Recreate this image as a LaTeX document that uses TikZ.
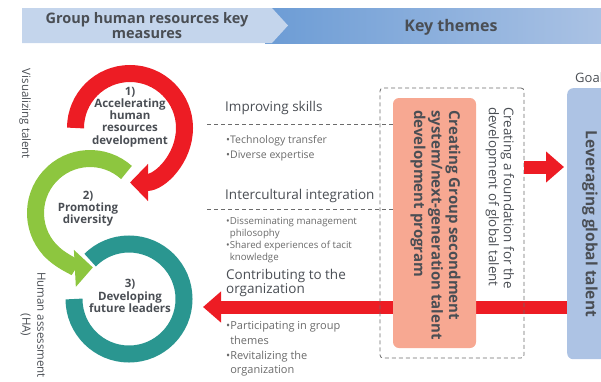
\documentclass[tikz,border=0pt]{standalone}
\usepackage{fontspec}
\setmainfont{Open Sans}
\usepackage{tikz}
\usetikzlibrary{arrows.meta,positioning}
\definecolor{hdrlight}{HTML}{C4D5EC}
\definecolor{hdrdarkL}{HTML}{6C9CD5}
\definecolor{hdrdarkR}{HTML}{AAC2E4}
\definecolor{txtgray}{HTML}{4A4E54}
\definecolor{bulgray}{HTML}{6A6A6A}
\definecolor{ringred}{HTML}{ED1C24}
\definecolor{ringgreen}{HTML}{8DC63F}
\definecolor{ringteal}{HTML}{2A9690}
\definecolor{salmon}{HTML}{F7A892}
\definecolor{goalblue}{HTML}{ADC3E4}
\definecolor{dashgray}{HTML}{6B6B6B}
\newcommand{\fs}[2]{\fontsize{#1}{#2}\selectfont}

\begin{document}
\begin{tikzpicture}[x=1pt, y=1pt,
    hdr/.style={font=\bfseries\fs{14.5}{14.5}, text=txtgray, align=center, inner sep=0},
    ring/.style={line width=17pt},
    ringtip/.style={-{Triangle[width=36pt,length=18pt]}},
    ringlbl/.style={font=\bfseries\fs{11.5}{12.2}, text=txtgray, align=center, inner sep=0},
    side/.style={font=\fs{11.5}{15}, text=txtgray, rotate=-90, align=center, inner sep=0},
    theme/.style={font=\fs{13.5}{12.5}, text=txtgray, anchor=west, align=left, inner sep=0},
    bullet/.style={font=\fs{10.5}{15}, text=bulgray, anchor=west, align=left, inner sep=0},
    sepline/.style={dashgray, line width=0.8pt, dash pattern=on 4pt off 3pt},
    bigarrow/.style={ringred, line width=13pt, -{Triangle[width=30pt,length=18pt]}}
]
    \useasboundingbox (0,0) rectangle (601,-381);
    \clip (0,0) rectangle (601,-381);

    % Header band
    \fill[left color=hdrdarkL, right color=hdrdarkR] (265,-8) rectangle (601,-43);
    \fill[hdrlight] (22,-8) -- (272,-8) -- (288,-25.5) -- (272,-43) -- (22,-43) -- cycle;
    \node[hdr] (hdrmeasures) at (147,-25.5) {Group human resources key\\measures};
    \node[hdr, font=\bfseries\fs{16}{16}] (hdrthemes) at (451,-27) {Key themes};

    % Rings
    \coordinate (c1) at (130,-128);
    \coordinate (c2) at (90,-213);
    \coordinate (c3) at (129,-299);
    \draw[ring, ringteal] (c3) ++(180:55) arc[start angle=180, end angle=495, radius=55];
    \draw[ring, ringtip, ringgreen] (c2) ++(48:54.5) arc[start angle=48, end angle=273, radius=54.5];
    \draw[ring, ringtip, ringred] (c1) ++(180:54.5) arc[start angle=180, end angle=-90, radius=54.5];

    \node[ringlbl] (m1) at (130,-117) {1)\\Accelerating\\human\\resources\\development};
    \node[ringlbl] (m2) at (88,-209) {2)\\Promoting\\diversity};
    \node[ringlbl] (m3) at (130,-296) {3)\\Developing\\future leaders};

    % Side labels
    \node[side] (vis) at (25,-114) {Visualizing talent};
    \node[side] (ha) at (33,-325) {Human assessment\\(HA)};

    % Goal box
    \node[fill=goalblue, rounded corners=6pt, minimum width=50pt, minimum height=271pt,
          inner sep=0, anchor=north west] (goal) at (567,-88) {};
    \node[rotate=-90, font=\bfseries\fs{15.5}{16}, text=txtgray, inner sep=0] (goaltxt)
        at (590,-224) {Leveraging global talent};
    \node[anchor=west, font=\fs{13}{13}, text=txtgray, inner sep=0] (goals) at (575,-78) {Goals};

    % Arrow back to the rings
    \coordinate (tipL) at (203,-307);
    \draw[bigarrow] (goal.west |- tipL) -- (tipL);

    % Programme box and frame
    \node[fill=salmon, rounded corners=6pt, minimum width=83pt, minimum height=250pt,
          inner sep=0] (prog) at (434.5,-223) {};
    \node[draw=dashgray, sepline, rounded corners=3pt, minimum width=144pt,
          minimum height=270pt, inner sep=0] (frame) at (452,-223) {};
    \node[rotate=-90, font=\bfseries\fs{15}{17.5}, text=txtgray, align=left, inner sep=0]
        (progtxt) at (435.5,-225) {Creating Group secondment\\system/next-generation talent\\development program};
    \node[rotate=-90, font=\fs{13.4}{15}, text=txtgray, align=left, inner sep=0]
        (found) at (500,-198) {Creating a foundation for the\\development of global talent};

    % Arrow to the goal
    \coordinate (rowA) at (0,-167);
    \draw[bigarrow] (frame.east |- rowA) -- ([xshift=-3pt]goal.west |- rowA);

    % Key themes
    \coordinate (lineA) at (207,-124);
    \coordinate (lineB) at (207,-209);
    \draw[sepline] (lineA) -- (lineA -| prog.west);
    \draw[sepline] (lineB) -- (lineB -| prog.west);

    \node[theme] (skills) at (225,-108) {Improving skills};
    \node[bullet] (skillsb) at (226,-148) {•Technology transfer\\•Diverse expertise};
    \node[theme] (intercult) at (225,-196) {Intercultural integration};
    \node[bullet, font=\fs{9.7}{12}] (intercultb) at (226,-240)
        {•Disseminating management\\\phantom{•}philosophy\\•Shared experiences of tacit\\\phantom{•}knowledge};
    \node[theme] (contrib) at (226,-283) {Contributing to the\\organization};
    \node[bullet, font=\fs{11}{14.8}] (contribb) at (226,-349)
        {•Participating in group\\\phantom{•}themes\\•Revitalizing the\\\phantom{•}organization};
\end{tikzpicture}
\end{document}
